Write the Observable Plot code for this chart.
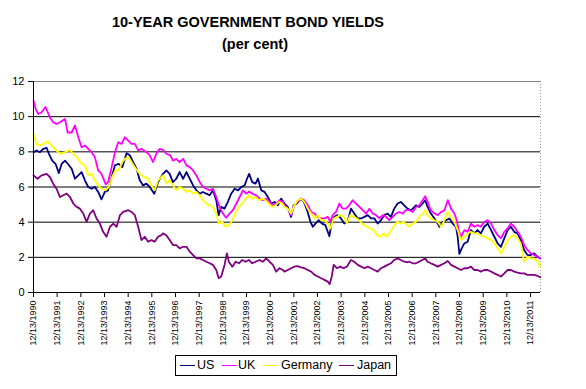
<!DOCTYPE html>
<html>
<head>
<meta charset="utf-8">
<script src="https://cdn.jsdelivr.net/npm/d3@7"></script>
<script src="https://cdn.jsdelivr.net/npm/@observablehq/plot@0.6"></script>
<style>
  html, body { margin: 0; padding: 0; background: #fff; }
  body { width: 586px; height: 389px; position: relative; overflow: hidden; font-family: "Liberation Sans", Arial, sans-serif; }
  #head { position: relative; height: 70px; }
  .t1 { position: absolute; left: 0; width: 496px; text-align: center; top: 14px; font-size: 14.5px; font-weight: bold; line-height: 16px; }
  .t2 { position: absolute; left: 0; width: 510px; text-align: center; top: 36px; font-size: 14.5px; font-weight: bold; line-height: 16px; }
  #chart svg { display: block; }
  #legend { position: absolute; left: 175px; top: 355px; width: 222px; height: 21px; box-sizing: border-box; border: 1px solid #000; font-size: 12.5px; }
  .sw { position: absolute; top: 9px; height: 0; border-top: 1px solid; width: 15px; }
  .lb { position: absolute; top: 2px; line-height: 14px; }
</style>
</head>
<body>
<div id="head">
  <div class="t1">10-YEAR GOVERNMENT BOND YIELDS</div>
  <div class="t2">(per cent)</div>
</div>
<div id="chart"></div>
<div id="legend"></div>
<script>
// ---- data: [decimal year, yield %] ----
const seriesNames = ["US", "UK", "Germany", "Japan"];
const seriesColors = ["#000080", "#FF00FF", "#FFFF00", "#800080"];
const tickYears = [1990,1991,1992,1993,1994,1995,1996,1997,1998,1999,2000,2001,2002,2003,2004,2005,2006,2007,2008,2009,2010,2011];
const yTicks = [0, 2, 4, 6, 8, 10, 12];

const us = [[1990.95,7.98],[1991.08,8.08],[1991.22,7.98],[1991.36,8.17],[1991.5,8.23],[1991.6,7.89],[1991.74,7.5],[1991.88,7.32],[1992.02,6.79],[1992.14,7.32],[1992.28,7.5],[1992.42,7.28],[1992.56,7.04],[1992.7,6.47],[1992.84,6.66],[1992.98,6.85],[1993.12,6.38],[1993.26,6.0],[1993.4,5.9],[1993.54,6.0],[1993.68,5.72],[1993.82,5.3],[1993.96,5.72],[1994.1,5.81],[1994.25,6.57],[1994.39,7.23],[1994.55,7.32],[1994.7,7.13],[1994.88,7.92],[1995.02,7.8],[1995.16,7.42],[1995.3,7.04],[1995.44,6.38],[1995.58,6.09],[1995.72,6.19],[1995.86,6.0],[1996.05,5.62],[1996.19,6.2],[1996.25,6.38],[1996.42,6.75],[1996.56,6.94],[1996.7,6.75],[1996.84,6.28],[1996.98,6.47],[1997.12,6.85],[1997.27,6.47],[1997.41,6.85],[1997.55,6.47],[1997.69,6.09],[1997.83,5.81],[1997.97,5.62],[1998.11,5.72],[1998.25,5.62],[1998.39,5.53],[1998.53,5.81],[1998.67,5.25],[1998.77,4.4],[1998.88,4.87],[1999.02,4.77],[1999.16,5.15],[1999.3,5.62],[1999.45,5.9],[1999.59,5.81],[1999.73,6.0],[1999.87,6.09],[1999.97,6.47],[2000.06,6.75],[2000.19,6.28],[2000.33,6.19],[2000.43,6.48],[2000.57,5.81],[2000.71,5.72],[2000.85,5.43],[2000.99,5.06],[2001.13,5.15],[2001.27,4.96],[2001.41,5.34],[2001.55,5.06],[2001.69,4.87],[2001.83,4.3],[2001.94,4.96],[2002.08,5.06],[2002.23,5.34],[2002.37,5.15],[2002.51,4.68],[2002.65,4.02],[2002.75,3.74],[2002.86,3.92],[2003.0,4.11],[2003.14,3.92],[2003.28,3.83],[2003.45,3.2],[2003.55,4.02],[2003.66,4.3],[2003.8,4.4],[2003.94,4.21],[2004.08,3.92],[2004.22,4.02],[2004.36,4.77],[2004.5,4.49],[2004.65,4.21],[2004.79,4.21],[2004.93,4.3],[2005.07,4.4],[2005.21,4.21],[2005.35,4.21],[2005.49,3.92],[2005.63,4.11],[2005.77,4.4],[2005.91,4.49],[2006.05,4.3],[2006.19,4.77],[2006.33,5.06],[2006.47,5.15],[2006.61,4.96],[2006.75,4.77],[2006.89,4.68],[2006.97,4.77],[2007.11,4.96],[2007.25,4.87],[2007.39,5.06],[2007.5,5.25],[2007.6,4.87],[2007.74,4.49],[2007.89,4.21],[2008.03,3.92],[2008.1,3.74],[2008.24,4.02],[2008.38,4.11],[2008.52,4.21],[2008.66,3.92],[2008.8,3.74],[2008.87,3.17],[2008.94,2.2],[2009.04,2.51],[2009.15,2.79],[2009.29,2.89],[2009.43,3.55],[2009.57,3.36],[2009.71,3.55],[2009.85,3.36],[2009.99,3.74],[2010.14,3.92],[2010.28,3.55],[2010.42,3.17],[2010.56,2.79],[2010.7,2.6],[2010.84,3.08],[2010.98,3.55],[2011.12,3.74],[2011.26,3.45],[2011.4,3.36],[2011.54,2.98],[2011.68,2.42],[2011.82,2.13],[2011.96,2.13],[2012.1,2.23],[2012.25,2.04],[2012.36,1.94]];

const uk = [[1990.95,10.9],[1991.05,10.4],[1991.15,10.15],[1991.29,10.25],[1991.46,10.55],[1991.64,9.96],[1991.78,9.68],[1991.92,9.58],[1992.07,9.68],[1992.28,9.87],[1992.39,9.1],[1992.56,9.1],[1992.7,9.5],[1992.84,8.83],[1992.98,8.26],[1993.12,8.36],[1993.26,8.17],[1993.4,7.98],[1993.54,7.7],[1993.68,6.94],[1993.82,6.75],[1994.0,6.15],[1994.1,6.28],[1994.25,7.13],[1994.39,7.98],[1994.53,8.55],[1994.67,8.45],[1994.81,8.83],[1994.95,8.64],[1995.09,8.45],[1995.23,8.45],[1995.37,8.08],[1995.51,8.17],[1995.72,7.98],[1995.86,7.8],[1996.0,7.42],[1996.14,7.9],[1996.28,8.17],[1996.42,8.11],[1996.56,7.89],[1996.73,7.8],[1996.84,7.5],[1996.98,7.6],[1997.12,7.42],[1997.27,7.6],[1997.41,7.23],[1997.55,7.13],[1997.69,6.94],[1997.83,6.66],[1997.97,6.28],[1998.11,6.0],[1998.25,5.9],[1998.39,5.81],[1998.53,5.9],[1998.67,5.43],[1998.81,4.87],[1998.95,4.49],[1999.09,4.25],[1999.23,4.49],[1999.37,4.68],[1999.52,5.06],[1999.66,5.43],[1999.8,5.81],[1999.94,5.62],[2000.06,5.75],[2000.22,5.6],[2000.36,5.53],[2000.5,5.34],[2000.64,5.25],[2000.78,5.34],[2000.92,5.15],[2001.06,4.96],[2001.2,5.06],[2001.34,5.25],[2001.48,5.15],[2001.55,4.96],[2001.69,4.77],[2001.83,4.4],[2001.97,4.96],[2002.11,5.15],[2002.25,5.34],[2002.39,5.25],[2002.54,4.96],[2002.68,4.58],[2002.82,4.49],[2002.96,4.3],[2003.1,4.21],[2003.24,4.21],[2003.38,4.3],[2003.49,4.02],[2003.59,4.4],[2003.73,4.58],[2003.87,5.06],[2004.01,4.77],[2004.15,4.77],[2004.29,4.96],[2004.43,5.25],[2004.57,5.06],[2004.72,4.87],[2004.86,4.68],[2005.0,4.49],[2005.14,4.77],[2005.28,4.49],[2005.42,4.4],[2005.56,4.21],[2005.7,4.4],[2005.84,4.3],[2005.98,4.11],[2006.12,4.3],[2006.26,4.49],[2006.4,4.58],[2006.54,4.49],[2006.68,4.68],[2006.83,4.68],[2006.97,4.58],[2007.11,4.87],[2007.25,4.96],[2007.39,5.25],[2007.5,5.47],[2007.6,5.15],[2007.74,4.68],[2007.89,4.49],[2008.03,4.4],[2008.17,4.58],[2008.31,4.68],[2008.45,5.25],[2008.59,4.77],[2008.73,4.49],[2008.83,4.11],[2008.91,3.55],[2009.01,3.17],[2009.15,3.55],[2009.29,3.45],[2009.43,3.92],[2009.57,3.74],[2009.71,3.83],[2009.85,3.74],[2009.99,4.02],[2010.14,4.11],[2010.28,3.92],[2010.42,3.55],[2010.56,3.26],[2010.7,3.08],[2010.84,3.45],[2010.98,3.64],[2011.12,3.92],[2011.26,3.74],[2011.4,3.45],[2011.54,3.17],[2011.68,2.7],[2011.82,2.42],[2011.96,2.23],[2012.1,2.13],[2012.25,2.04],[2012.36,1.94]];

const germany = [[1990.95,9.02],[1991.08,8.45],[1991.22,8.36],[1991.36,8.45],[1991.55,8.6],[1991.71,8.36],[1991.85,8.17],[1992.07,7.89],[1992.28,7.98],[1992.49,8.11],[1992.63,7.89],[1992.77,7.7],[1992.98,7.32],[1993.12,7.23],[1993.26,6.66],[1993.4,6.75],[1993.54,6.38],[1993.68,6.09],[1993.82,5.9],[1993.99,5.81],[1994.13,6.0],[1994.27,6.57],[1994.41,6.94],[1994.55,6.94],[1994.7,7.42],[1994.81,7.6],[1994.95,7.7],[1995.09,7.42],[1995.23,7.13],[1995.37,6.85],[1995.51,6.66],[1995.65,6.57],[1995.79,6.47],[1995.93,6.09],[1996.07,5.81],[1996.21,6.38],[1996.35,6.57],[1996.42,6.66],[1996.56,6.19],[1996.7,6.38],[1996.84,6.09],[1996.98,5.81],[1997.12,6.0],[1997.27,5.9],[1997.41,5.72],[1997.55,5.81],[1997.69,5.62],[1997.83,5.72],[1997.97,5.53],[1998.11,5.25],[1998.25,5.06],[1998.39,4.96],[1998.53,4.87],[1998.67,4.49],[1998.78,3.92],[1998.92,4.02],[1999.06,3.74],[1999.2,3.83],[1999.35,4.11],[1999.49,4.58],[1999.63,4.87],[1999.77,5.06],[1999.91,5.34],[2000.05,5.53],[2000.19,5.34],[2000.33,5.43],[2000.47,5.25],[2000.61,5.34],[2000.75,5.25],[2000.89,5.06],[2001.03,4.87],[2001.17,4.96],[2001.32,5.15],[2001.46,5.06],[2001.55,4.87],[2001.69,4.77],[2001.83,4.49],[2001.97,4.96],[2002.11,5.25],[2002.25,5.34],[2002.39,5.15],[2002.54,4.77],[2002.68,4.49],[2002.82,4.21],[2002.96,4.4],[2003.1,4.11],[2003.24,4.11],[2003.38,3.92],[2003.49,3.64],[2003.63,4.21],[2003.77,4.3],[2003.91,4.4],[2004.05,4.3],[2004.19,3.92],[2004.33,4.4],[2004.48,4.3],[2004.62,4.21],[2004.76,4.02],[2004.9,3.83],[2005.04,3.74],[2005.18,3.64],[2005.32,3.55],[2005.46,3.26],[2005.6,3.17],[2005.74,3.36],[2005.88,3.17],[2006.02,3.45],[2006.16,3.74],[2006.31,4.02],[2006.45,3.92],[2006.59,4.02],[2006.73,3.83],[2006.83,3.74],[2006.97,3.92],[2007.11,4.02],[2007.25,4.3],[2007.39,4.49],[2007.5,4.68],[2007.6,4.4],[2007.74,4.21],[2007.89,4.11],[2008.03,4.02],[2008.17,3.74],[2008.31,4.11],[2008.45,4.58],[2008.59,4.3],[2008.73,4.02],[2008.87,3.55],[2009.01,2.98],[2009.15,3.17],[2009.29,3.36],[2009.43,3.45],[2009.57,3.36],[2009.71,3.36],[2009.85,3.26],[2009.99,3.17],[2010.14,3.08],[2010.28,2.98],[2010.42,2.79],[2010.56,2.51],[2010.7,2.23],[2010.84,2.6],[2010.98,2.98],[2011.12,3.17],[2011.26,3.26],[2011.4,3.08],[2011.54,2.79],[2011.68,1.75],[2011.82,2.04],[2011.96,1.94],[2012.1,1.94],[2012.25,1.75],[2012.36,1.47]];

const japan = [[1990.95,6.66],[1991.12,6.47],[1991.29,6.66],[1991.5,6.75],[1991.64,6.57],[1991.78,6.19],[1991.92,5.9],[1992.07,5.43],[1992.21,5.53],[1992.35,5.62],[1992.49,5.43],[1992.63,5.06],[1992.77,4.87],[1992.91,4.77],[1993.05,4.49],[1993.19,4.02],[1993.33,4.49],[1993.47,4.68],[1993.61,4.21],[1993.75,3.92],[1993.89,3.45],[1994.03,3.17],[1994.18,3.74],[1994.32,3.92],[1994.46,3.74],[1994.6,4.4],[1994.74,4.58],[1994.95,4.68],[1995.09,4.58],[1995.23,4.4],[1995.37,3.74],[1995.51,2.98],[1995.65,3.17],[1995.79,2.89],[1995.93,2.98],[1996.07,2.89],[1996.21,3.17],[1996.35,3.26],[1996.42,3.36],[1996.56,3.26],[1996.7,2.98],[1996.84,2.7],[1996.98,2.7],[1997.12,2.51],[1997.27,2.6],[1997.41,2.6],[1997.55,2.32],[1997.69,2.13],[1997.83,1.94],[1997.97,1.94],[1998.11,1.85],[1998.25,1.75],[1998.39,1.66],[1998.53,1.57],[1998.67,1.28],[1998.77,0.81],[1998.88,0.91],[1999.02,1.57],[1999.12,2.23],[1999.2,1.75],[1999.35,1.47],[1999.49,1.75],[1999.63,1.66],[1999.77,1.85],[1999.91,1.75],[2000.05,1.85],[2000.19,1.66],[2000.33,1.75],[2000.5,1.85],[2000.64,1.75],[2000.78,1.94],[2000.92,1.75],[2001.06,1.57],[2001.2,1.19],[2001.34,1.38],[2001.48,1.28],[2001.55,1.19],[2001.69,1.28],[2001.83,1.38],[2001.97,1.47],[2002.11,1.5],[2002.25,1.43],[2002.39,1.38],[2002.54,1.28],[2002.68,1.19],[2002.82,1.0],[2002.96,0.91],[2003.1,0.81],[2003.24,0.72],[2003.38,0.62],[2003.46,0.47],[2003.55,0.91],[2003.63,1.57],[2003.77,1.38],[2003.91,1.47],[2004.05,1.38],[2004.19,1.47],[2004.36,1.85],[2004.5,1.75],[2004.65,1.57],[2004.79,1.47],[2004.93,1.38],[2005.07,1.47],[2005.21,1.38],[2005.35,1.28],[2005.49,1.19],[2005.63,1.38],[2005.77,1.47],[2005.91,1.57],[2006.05,1.66],[2006.19,1.85],[2006.33,1.94],[2006.47,1.85],[2006.61,1.75],[2006.75,1.72],[2006.83,1.75],[2006.97,1.66],[2007.11,1.66],[2007.32,1.81],[2007.5,1.94],[2007.6,1.75],[2007.74,1.66],[2007.89,1.57],[2008.03,1.47],[2008.17,1.57],[2008.31,1.66],[2008.45,1.79],[2008.59,1.57],[2008.73,1.47],[2008.87,1.38],[2009.01,1.28],[2009.15,1.38],[2009.29,1.38],[2009.43,1.47],[2009.57,1.28],[2009.71,1.28],[2009.85,1.19],[2009.99,1.28],[2010.14,1.28],[2010.28,1.19],[2010.42,1.09],[2010.56,1.0],[2010.7,0.91],[2010.84,1.09],[2010.98,1.28],[2011.12,1.28],[2011.26,1.19],[2011.4,1.13],[2011.54,1.09],[2011.68,1.09],[2011.82,1.0],[2011.96,1.0],[2012.1,1.0],[2012.25,0.94],[2012.36,0.87]];

const allSeries = [us, uk, germany, japan];

// ---- helpers ----
function toDate(y) {
  const yr = Math.floor(y);
  const a = Date.UTC(yr, 0, 1), b = Date.UTC(yr + 1, 0, 1);
  return new Date(a + (y - yr) * (b - a));
}
const tickDates = tickYears.map(y => new Date(Date.UTC(y, 11, 13)));
const xStart = tickDates[0];
const xEnd = toDate(2012.37);

const rows = [];
allSeries.forEach((s, i) => s.forEach(([t, v]) => rows.push({series: seriesNames[i], date: toDate(t), value: v})));

const chart = Plot.plot({
  width: 586,
  height: 282,
  marginTop: 11,
  marginLeft: 33,
  marginRight: 46,
  marginBottom: 60,
  x: {type: "utc", domain: [xStart, xEnd]},
  y: {domain: [0, 12]},
  color: {domain: seriesNames, range: seriesColors},
  style: {fontFamily: "'Liberation Sans', Arial, sans-serif", fontSize: "9px", color: "#000", background: "#fff", overflow: "visible"},
  marks: [
    Plot.ruleY([2, 4, 6, 8, 10], {stroke: "#000", strokeWidth: 1}),
    Plot.ruleY([12], {stroke: "#808080", strokeWidth: 1}),
    Plot.ruleX([xEnd], {stroke: "#a0a0a0", strokeWidth: 1, strokeDasharray: "1,2"}),
    Plot.line(rows, {x: "date", y: "value", z: "series", stroke: "series", strokeWidth: 1.8, curve: "linear"}),
    Plot.ruleY([0], {stroke: "#000", strokeWidth: 1}),
    Plot.ruleX([xStart], {stroke: "#000", strokeWidth: 1}),
    Plot.axisY({ticks: yTicks, tickSize: 5, tickPadding: 4, fontSize: 11, label: null, stroke: "#000"}),
    Plot.axisX({ticks: tickDates, tickFormat: d => `12/13/${d.getUTCFullYear()}`, tickRotate: -90, tickSize: 5, tickPadding: 3, fontSize: 9, label: null, stroke: "#000"})
  ]
});
document.getElementById("chart").appendChild(chart);

// ---- legend ----
const legend = document.getElementById("legend");
const legendPos = [[4, 21], [46, 62], [87, 105], [163, 181]];
seriesNames.forEach((name, i) => {
  const sw = document.createElement("div");
  sw.className = "sw";
  sw.style.left = legendPos[i][0] + "px";
  sw.style.borderTopColor = seriesColors[i];
  legend.appendChild(sw);
  const lb = document.createElement("div");
  lb.className = "lb";
  lb.style.left = legendPos[i][1] + "px";
  lb.textContent = name;
  legend.appendChild(lb);
});
</script>
</body>
</html>
